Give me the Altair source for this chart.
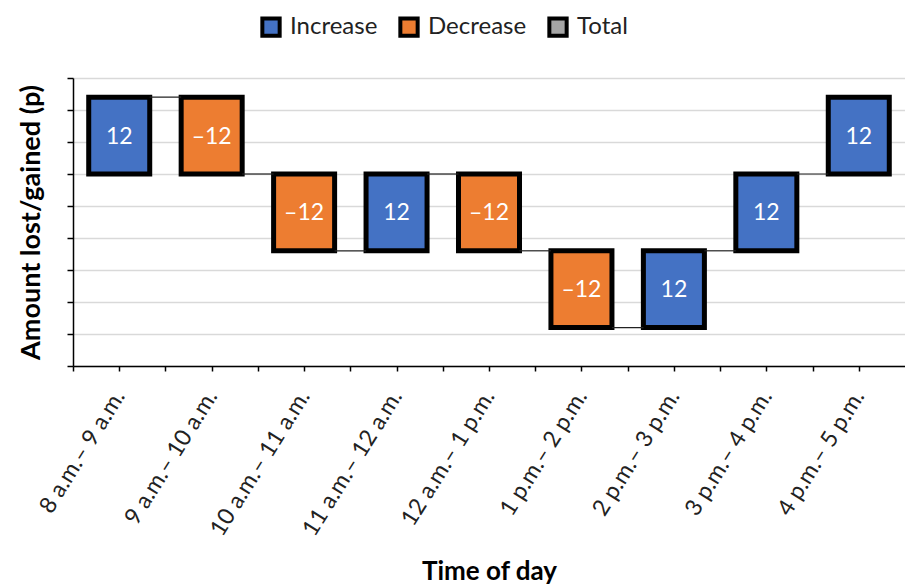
import json

import altair as alt
import pandas as pd

# Hourly change in the amount held (pence), drawn as a waterfall
periods = [
    "8 a.m.– 9 a.m.",
    "9 a.m.– 10 a.m.",
    "10 a.m.– 11 a.m.",
    "11 a.m.– 12 a.m.",
    "12 a.m.– 1 p.m.",
    "1 p.m.– 2 p.m.",
    "2 p.m.– 3 p.m.",
    "3 p.m.– 4 p.m.",
    "4 p.m.– 5 p.m.",
]
changes = [12, -12, -12, 12, -12, -12, 12, 12, 12]
opening_amount = 30

kinds = ["Increase", "Decrease", "Total"]
kind_colors = ["#4472C4", "#ED7D31", "#A5A5A5"]
y_ticks = list(range(0, 50, 5))

# running totals: each bar spans from the previous total to the new one
rows = []
level = opening_amount
for i, (period, change) in enumerate(zip(periods, changes)):
    rows.append(
        {
            "idx": i,
            "period": period,
            "change": change,
            "start": level,
            "end": level + change,
            "kind": "Increase" if change >= 0 else "Decrease",
        }
    )
    level += change
df = pd.DataFrame(rows)

FONT = "Lato"
n = len(periods)

# x positions: one unit per period, ticks on both band edges and centres
x_ticks = [k / 2 for k in range(0, 2 * n)]
label_expr = (
    f"(datum.value % 1 == 0.5) ? {json.dumps(periods)}[floor(datum.value)] : ''"
)

x_scale = alt.Scale(domain=[0, n], nice=False, zero=False)
y_scale = alt.Scale(domain=[0, 45], nice=False)

x_axis = alt.Axis(
    values=x_ticks,
    labelExpr=label_expr,
    labelAngle=-58,
    labelAlign="right",
    labelBaseline="middle",
    labelFontSize=23,
    labelColor="#222222",
    labelPadding=21,
    labelOverlap=False,
    labelFlush=False,
    labelBound=False,
    grid=False,
    tickSize=5,
    tickColor="black",
    tickWidth=1.5,
    domainColor="black",
    domainWidth=1.5,
    title="Time of day",
    titleFontSize=26,
    titleFontWeight="bold",
    titleColor="black",
    titleBaseline="alphabetic",
    titleY=213,
)

y_axis = alt.Axis(
    values=y_ticks,
    labels=False,
    tickSize=6,
    tickColor="black",
    tickWidth=1.5,
    domainColor="black",
    domainWidth=1.5,
    grid=True,
    gridColor="#d9d9d9",
    gridWidth=1.5,
    title="Amount lost/gained (p)",
    titleFontSize=27,
    titleFontWeight="bold",
    titleColor="black",
    titlePadding=21,
)

base = alt.Chart(df)

bars = (
    base.transform_calculate(x0="datum.idx + 0.17", x1="datum.idx + 0.83")
    .mark_rect(stroke="black", strokeWidth=5)
    .encode(
        x=alt.X("x0:Q", scale=x_scale, axis=x_axis),
        x2="x1:Q",
        y=alt.Y("start:Q", scale=y_scale, axis=y_axis),
        y2="end:Q",
        color=alt.Color(
            "kind:N",
            scale=alt.Scale(domain=kinds, range=kind_colors),
            legend=alt.Legend(
                title=None,
                orient="none",
                direction="horizontal",
                legendX=186,
                legendY=-63,
                symbolType="square",
                symbolSize=300,
                symbolStrokeColor="black",
                symbolStrokeWidth=4,
                symbolOpacity=1,
                labelFontSize=24,
                labelColor="#222222",
                labelOffset=7,
                columnPadding=14,
            ),
        ),
    )
)

# thin connectors from each bar's closing level to the next bar
connectors = (
    base.transform_filter(f"datum.idx < {n - 1}")
    .transform_calculate(c0="datum.idx + 0.83", c1="datum.idx + 1.17")
    .mark_rule(color="#222222", strokeWidth=1.2)
    .encode(
        x=alt.X("c0:Q", scale=x_scale, axis=x_axis),
        x2="c1:Q",
        y=alt.Y("end:Q", scale=y_scale, axis=y_axis),
    )
)

# value labels inside each bar
labels = (
    base.transform_calculate(
        xc="datum.idx + 0.5",
        yc="(datum.start + datum.end) / 2",
        txt="datum.change < 0 ? '–' + abs(datum.change) : '' + datum.change",
    )
    .mark_text(color="white", fontSize=23, baseline="middle", align="center", dy=1)
    .encode(
        x=alt.X("xc:Q", scale=x_scale, axis=x_axis),
        y=alt.Y("yc:Q", scale=y_scale, axis=y_axis),
        text="txt:N",
    )
)

chart = (
    alt.layer(bars, connectors, labels)
    .properties(
        width=832,
        height=288,
        autosize=alt.AutoSizeParams(type="none"),
        padding={"left": 73, "top": 78, "right": 0, "bottom": 220},
        background="white",
    )
    .configure(font=FONT)
    .configure_view(stroke=None)
)

chart.save("out.html", embed_options={"renderer": "svg", "actions": False})
